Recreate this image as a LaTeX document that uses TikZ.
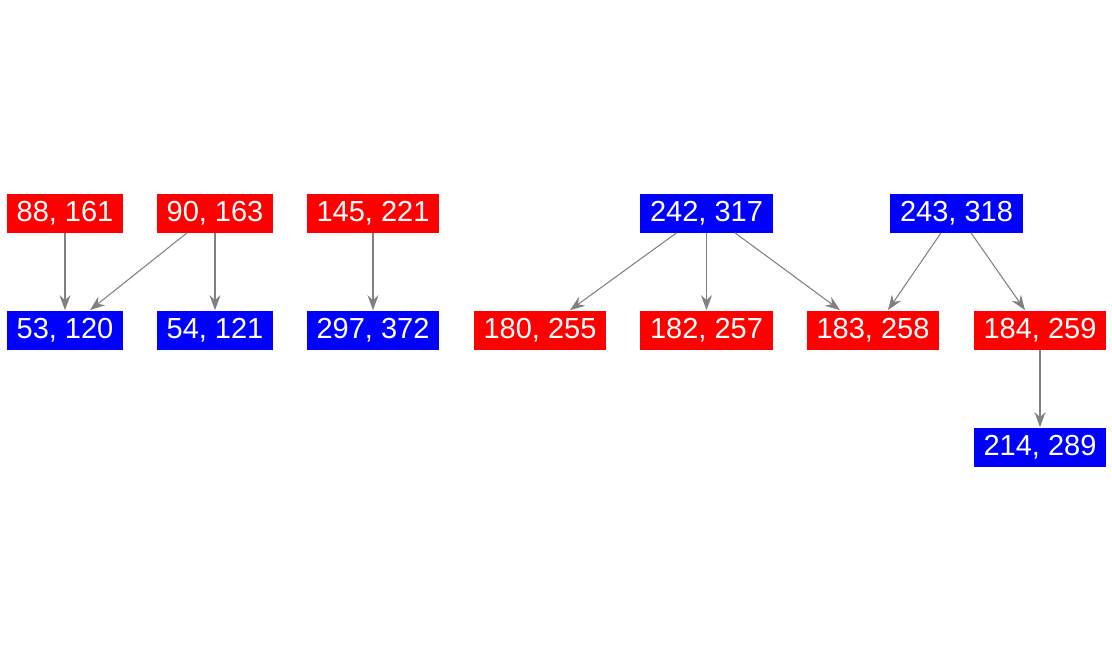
\documentclass[tikz,border=0pt]{standalone}
\usepackage{fontspec}
\setmainfont{Liberation Sans}
\usetikzlibrary{arrows.meta}
\tikzset{
every node/.style={rectangle, inner xsep=0.2cm, minimum height=0.78cm, text=white, font=\fontsize{16.5}{16.5}\selectfont},
redbox/.style={fill=red},
bluebox/.style={fill=blue},
link/.style={draw=gray, line width=0.6pt, -{Stealth[length=0.3cm, width=0.22cm, inset=0.1cm]}}
}
\begin{document}
\begin{tikzpicture}[x=0.02cm, y=-0.02cm]
\useasboundingbox (0,0) rectangle (1112,656);
\node[redbox] (1) at (65,213) {88, 161};
\node[redbox] (2) at (215,213) {90, 163};
\node[redbox] (3) at (373,213) {145, 221};
\node[bluebox] (4) at (706.5,213) {242, 317};
\node[bluebox] (5) at (956.5,213) {243, 318};
\node[bluebox] (6) at (65,330) {53, 120};
\node[bluebox] (7) at (215,330) {54, 121};
\node[bluebox] (8) at (373,330) {297, 372};
\node[redbox] (9) at (540,330) {180, 255};
\node[redbox] (10) at (706.5,330) {182, 257};
\node[redbox] (11) at (873,330) {183, 258};
\node[redbox] (12) at (1040,330) {184, 259};
\node[bluebox] (13) at (1040,447) {214, 289};

\draw[link] (1) -- (6);
\draw[link] ([xshift=-0.56cm]2.south) -- ([xshift=0.5cm]6.north);
\draw[link] (2) -- (7);
\draw[link] (3) -- (8);
\draw[link] ([xshift=-0.6cm]4.south) -- ([xshift=0.6cm]9.north);
\draw[link] (4) -- (10);
\draw[link] ([xshift=0.57cm]4.south) -- ([xshift=-0.66cm]11.north);
\draw[link] ([xshift=-0.31cm]5.south) -- ([xshift=0.3cm]11.north);
\draw[link] ([xshift=0.29cm]5.south) -- ([xshift=-0.3cm]12.north);
\draw[link] (12) -- (13);
\end{tikzpicture}
\end{document}
